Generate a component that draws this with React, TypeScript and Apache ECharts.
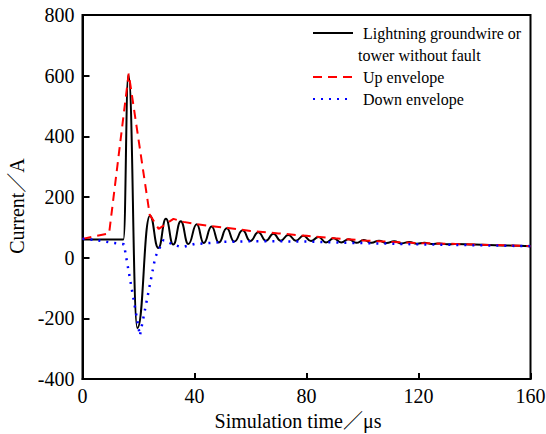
import React, { useEffect, useRef } from "react";
import * as echarts from "echarts";

// Lightning groundwire / tower current (no fault)
const blackTime = [
  0, 14.6, 16.4, 19.6, 24.1, 27.1, 29.8, 32.4, 35.1, 37.8, 40.8, 43.3, 46.1, 48.7,
  51.5, 54.2, 57.2, 59.9, 62.8, 65.5, 68.2, 70.8, 73.5, 76.2, 78.9, 81.6, 84.3,
  87.0, 89.7, 92.4, 95.1, 97.8, 100.5, 103.2, 105.9, 108.6, 111.3, 114.0, 116.7,
  119.4, 122.1, 124.8, 127.5, 130.2, 133.0, 140, 150, 160,
];
const blackCurrent = [
  60, 60, 603, -232, 138, 32, 128, 43, 120, 45, 110, 48, 103, 50,
  97, 53, 90, 55, 84, 56, 79, 56, 75, 56, 72, 55, 68,
  50, 64, 50, 61, 49, 58, 49, 56, 48, 54, 47, 52,
  46, 49, 45, 47, 44, 45, 43, 40, 38,
];

// Up envelope
const upTime = [0, 9.5, 16.5, 24.0, 27.2, 32.5, 36, 41, 46, 52, 60, 70, 80, 90, 100, 110, 120, 130, 140, 150, 160];
const upCurrent = [62, 80, 607, 142, 95, 128, 118, 110, 104, 98, 88, 80, 72, 64, 57, 52, 48, 46, 43, 41, 38];

// Down envelope
const downTime = [0, 5, 10, 14.8, 20.5, 26, 28.9, 32, 34.5, 36.5, 40, 45, 50, 60, 70, 80, 90, 100, 110, 120, 140, 160];
const downCurrent = [62, 58, 50, 44, -257, 2, 58, 45, 37, 37, 45, 48, 52, 54, 54, 53, 50, 48, 46, 44, 41, 38];

const xMin = 0;
const xMax = 160;
const xStep = 40;
const yMin = -400;
const yMax = 800;
const yStep = 200;

const BLACK_NAME = "Lightning groundwire or tower without fault";
const UP_NAME = "Up envelope";
const DOWN_NAME = "Down envelope";

const FONT = "Liberation Serif, Noto Sans CJK SC, serif";

const zip = (a: number[], b: number[]) => a.map((v, i) => [v, b[i]]);

export default function App() {
  const ref = useRef<HTMLDivElement>(null);

  useEffect(() => {
    if (!ref.current) return;
    const chart = echarts.init(ref.current, null, { renderer: "svg" });
    chart.setOption({
      animation: false,
      backgroundColor: "#fff",
      textStyle: { fontFamily: FONT },
      grid: {
        left: 82.5,
        right: 15.5,
        top: 15,
        bottom: 55,
        show: true,
        borderColor: "#000",
        borderWidth: 2,
        backgroundColor: "transparent",
        outerBoundsMode: "none",
      },
      legend: {
        orient: "vertical",
        left: 312,
        top: 0,
        padding: 0,
        itemGap: 0,
        itemWidth: 40,
        itemHeight: 14,
        itemStyle: { opacity: 0 },
        selectedMode: false,
        textStyle: {
          fontFamily: FONT,
          fontSize: 16,
          color: "#000",
          lineHeight: 22,
          rich: {
            a: { fontFamily: FONT, fontSize: 16, lineHeight: 22, color: "#000", padding: [0, 0, 0, 5] },
            b: { fontFamily: FONT, fontSize: 16, lineHeight: 22, color: "#000" },
          },
        },
        formatter: (name: string) =>
          name === BLACK_NAME
            ? "{a|Lightning groundwire or}\n{b|tower without fault}"
            : "{a|" + name + "}",
        data: [
          { name: BLACK_NAME, textStyle: { padding: [22, 0, 0, 0] } },
          { name: UP_NAME },
          { name: DOWN_NAME },
        ],
      },
      xAxis: {
        type: "value",
        min: xMin,
        max: xMax,
        interval: xStep,
        name: "Simulation time／μs",
        nameLocation: "middle",
        nameGap: 22,
        nameTextStyle: { fontFamily: FONT, fontSize: 20, color: "#000", padding: [0, 17, 0, 0] },
        axisLine: { show: true, onZero: false, lineStyle: { color: "#000", width: 2 } },
        axisTick: { show: true, inside: true, length: 6, lineStyle: { color: "#000", width: 2 } },
        axisLabel: { fontFamily: FONT, fontSize: 20, color: "#000", margin: 7 },
        splitLine: { show: false },
      },
      yAxis: {
        type: "value",
        min: yMin,
        max: yMax,
        interval: yStep,
        name: "Current／A",
        nameLocation: "middle",
        nameGap: 47,
        nameRotate: 90,
        nameTextStyle: { fontFamily: FONT, fontSize: 20, color: "#000", padding: [0, 18, 0, 0] },
        axisLine: { show: true, onZero: false, lineStyle: { color: "#000", width: 2 } },
        axisTick: { show: true, inside: true, length: 7, lineStyle: { color: "#000", width: 2 } },
        axisLabel: { fontFamily: FONT, fontSize: 20, color: "#000", margin: 8 },
        splitLine: { show: false },
      },
      series: [
        {
          type: "line",
          name: BLACK_NAME,
          data: zip(blackTime, blackCurrent),
          symbol: "none",
          smooth: 0.5,
          smoothMonotone: "x",
          lineStyle: { color: "#000", width: 2 },
          itemStyle: { color: "#000" },
        },
        {
          type: "line",
          name: UP_NAME,
          data: zip(upTime, upCurrent),
          symbol: "none",
          lineStyle: { color: "#ff0000", width: 2, type: [9, 6] },
          itemStyle: { color: "#ff0000" },
        },
        {
          type: "line",
          name: DOWN_NAME,
          data: zip(downTime, downCurrent),
          symbol: "none",
          lineStyle: { color: "#0000ff", width: 2.5, type: [2, 6] },
          itemStyle: { color: "#0000ff" },
        },
      ],
    });
    return () => chart.dispose();
  }, []);

  return (
    <div
      ref={ref}
      style={{ position: "fixed", left: 0, top: 0, width: 546, height: 434, background: "#fff" }}
    />
  );
}
